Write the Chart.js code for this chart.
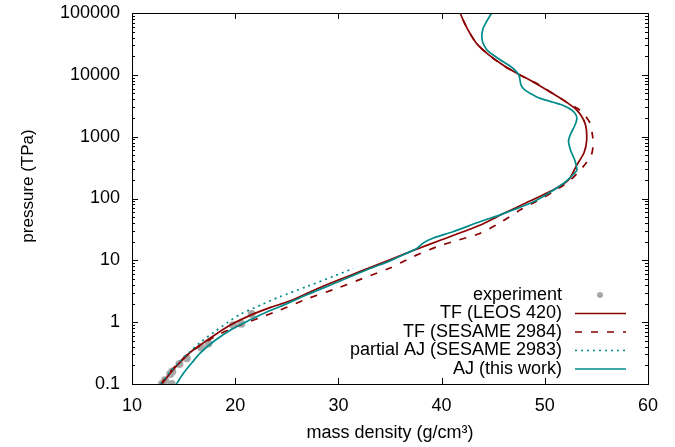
<!DOCTYPE html>
<html>
<head>
<meta charset="utf-8">
<script src="https://cdn.jsdelivr.net/npm/chart.js@4.4.0/dist/chart.umd.min.js"></script>
<style>
  body { margin: 0; background: #fff; }
  #wrap { width: 675px; height: 447px; }
</style>
</head>
<body>
<div id="wrap"><canvas id="eos"></canvas></div>
<script>
// density (g/cm3) and pressure (TPa)
const expRho = [12.9, 13.2, 13.85, 13.7, 13.9, 14.6, 15.3, 16.7, 17.4, 19.8, 20.6, 21.6];
const expP = [0.1, 0.115, 0.1, 0.145, 0.16, 0.21, 0.26, 0.39, 0.45, 0.89, 0.94, 1.35];

const leosRho = [12.9, 13.7, 14.6, 15.6, 16.8, 18.2, 19.7, 21.5, 23.5, 25.6, 28, 30, 32.5, 35, 37.5, 40, 43.7, 46, 48.5, 50.8, 52.3, 53.1, 53.8, 54.06, 53.9, 53.1, 51.8, 50.2, 48.8, 47.3, 45.8, 44.4, 43.4, 42.75, 42.2, 41.8];
const leosP = [0.1, 0.15, 0.22, 0.32, 0.45, 0.65, 0.93, 1.3, 1.75, 2.3, 3.5, 4.8, 7.0, 10.2, 15, 21.5, 37, 57, 90, 137, 200, 347, 550, 881, 1640, 2690, 3900, 5680, 7800, 10600, 15000, 22300, 32000, 46800, 70000, 100000];

const sesRho = [12.8, 13.6, 14.5, 15.6, 16.8, 18.3, 20.5, 22.5, 24.3, 27, 30, 33, 35, 37.2, 39.5, 41.5, 43.7, 45.7, 47.6, 49.2, 50.8, 52.5, 53.7, 54.5, 54.7, 54.6, 54.4, 53.7, 53.1, 51.8, 49.2, 47.9, 46.5, 45.5, 44.4, 43.4, 42.75, 42.2, 41.8];
const sesP = [0.1, 0.15, 0.22, 0.32, 0.44, 0.62, 0.9, 1.2, 1.56, 2.4, 3.6, 5.6, 7.5, 11.4, 16.5, 21, 27.2, 41, 65, 90, 128, 200, 325, 500, 780, 1100, 1640, 2410, 2900, 3900, 7280, 9320, 12500, 16000, 22300, 32000, 46800, 70000, 100000];

const pajRho = [12.8, 13.6, 14.5, 15.5, 16.6, 18, 19.3, 20.5, 22.5, 24.3, 27, 29.5, 31.45];
const pajP = [0.1, 0.15, 0.22, 0.32, 0.47, 0.7, 1.0, 1.35, 1.9, 2.57, 3.8, 5.5, 7.4];

const ajRho = [14.3, 15.0, 15.8, 16.6, 18, 19.8, 21.5, 23, 24.3, 27, 30, 33, 35, 36.9, 37.6, 38.2, 39.2, 41.1, 43.7, 46, 49.2, 51.8, 52.6, 53.1, 52.9, 52.5, 52.3, 52.5, 52.9, 53.1, 53.0, 52.6, 51.8, 50.8, 49.5, 48.6, 48.0, 47.7, 47.6, 47.5, 47.2, 46.6, 45.7, 44.9, 44.4, 44.0, 43.9, 44.0, 44.3, 44.85];
const ajP = [0.1, 0.15, 0.22, 0.316, 0.5, 0.79, 1.1, 1.45, 1.77, 2.8, 4.5, 7.3, 9.8, 13.7, 15.6, 19, 23, 29, 42, 57, 94, 175, 230, 288, 420, 600, 850, 1100, 1500, 1900, 2300, 2700, 3200, 3600, 4200, 5000, 5800, 6800, 8200, 9900, 11500, 14000, 17400, 21500, 25200, 33000, 41400, 55000, 70000, 100000];

const xTicks = [10, 20, 30, 40, 50, 60];
const yTicks = [0.1, 1, 10, 100, 1000, 10000, 100000];

const legendNames = ["experiment", "TF (LEOS 420)", "TF (SESAME 2984)", "partial AJ (SESAME 2983)", "AJ (this work)"];
const yTitle = "pressure (TPa)";

const red = "#8b0000";
const teal = "#008b8b";
const grey = "#a8a8a8";
const font = "Liberation Sans, Arial, Helvetica, sans-serif";

const pts = (xs, ys) => xs.map((x, i) => ({ x: x, y: ys[i] }));

const lineSet = (label, xs, ys, color, dash, order) => ({
    label: label,
    data: pts(xs, ys),
    showLine: true,
    borderColor: color,
    borderWidth: 1.7,
    borderDash: dash,
    pointRadius: 0,
    tension: 0.25,
    fill: false,
    order: order,
});

// box, inward ticks on all sides, y title and the legend in the lower right
const frame = {
    id: "frame",
    afterDatasetsDraw(chart) {
        const ctx = chart.ctx;
        const a = chart.chartArea;
        const xs = chart.scales.x;
        const ys = chart.scales.y;
        ctx.save();
        ctx.strokeStyle = "#000";
        ctx.lineWidth = 1;
        ctx.beginPath();
        xTicks.forEach((v) => {
            const px = Math.round(xs.getPixelForValue(v)) + 0.5;
            ctx.moveTo(px, a.bottom); ctx.lineTo(px, a.bottom - 6);
            ctx.moveTo(px, a.top); ctx.lineTo(px, a.top + 6);
        });
        yTicks.forEach((v, i) => {
            const py = Math.round(ys.getPixelForValue(v)) + 0.5;
            ctx.moveTo(a.left, py); ctx.lineTo(a.left + 6, py);
            ctx.moveTo(a.right, py); ctx.lineTo(a.right - 6, py);
            if (i < yTicks.length - 1) {
                for (let m = 2; m <= 9; m++) {
                    const pm = Math.round(ys.getPixelForValue(v * m)) + 0.5;
                    ctx.moveTo(a.left, pm); ctx.lineTo(a.left + 3, pm);
                    ctx.moveTo(a.right, pm); ctx.lineTo(a.right - 3, pm);
                }
            }
        });
        ctx.stroke();
        ctx.strokeRect(Math.round(a.left) + 0.5, Math.round(a.top) + 0.5,
            Math.round(a.right - a.left), Math.round(a.bottom - a.top));

        ctx.fillStyle = "#000";
        ctx.textBaseline = "middle";

        // y axis title
        ctx.save();
        ctx.font = "17px " + font;
        ctx.translate(28, 186);
        ctx.rotate(-Math.PI / 2);
        ctx.textAlign = "center";
        ctx.fillText(yTitle, 0, 0);
        ctx.restore();

        // legend
        const rows = [295, 313.5, 332, 350.5, 369];
        ctx.font = "18px " + font;
        ctx.textAlign = "right";
        const sets = chart.data.datasets;
        legendNames.forEach((name, i) => {
            ctx.fillText(name, 562, rows[i]);
        });
        ctx.fillStyle = grey;
        ctx.beginPath();
        ctx.arc(600, rows[0], 3, 0, Math.PI * 2);
        ctx.fill();
        for (let i = 1; i < legendNames.length; i++) {
            const ds = sets[i];
            ctx.strokeStyle = ds.borderColor;
            ctx.lineWidth = ds.borderWidth;
            ctx.setLineDash(ds.borderDash || []);
            ctx.beginPath();
            ctx.moveTo(575, rows[i]);
            ctx.lineTo(626, rows[i]);
            ctx.stroke();
        }
        ctx.restore();
    },
};

new Chart(document.getElementById("eos"), {
    type: "scatter",
    data: {
        datasets: [
            {
                label: legendNames[0],
                data: pts(expRho, expP),
                pointRadius: 4,
                pointBackgroundColor: grey,
                pointBorderWidth: 0,
                showLine: false,
                order: 4,
            },
            lineSet(legendNames[1], leosRho, leosP, red, [], 3),
            lineSet(legendNames[2], sesRho, sesP, red, [7, 9], 2),
            lineSet(legendNames[3], pajRho, pajP, teal, [2, 4], 1),
            lineSet(legendNames[4], ajRho, ajP, teal, [], 0),
        ],
    },
    options: {
        responsive: true,
        maintainAspectRatio: false,
        animation: false,
        layout: { padding: { top: 13, right: 27, left: 0, bottom: 0 } },
        plugins: { legend: { display: false }, tooltip: { enabled: false } },
        scales: {
            x: {
                type: "linear",
                min: 10,
                max: 60,
                afterFit: (s) => {
                    s.height = 63;
                    s.paddingLeft = 0;
                    s.paddingRight = 0;
                },
                afterBuildTicks: (s) => { s.ticks = xTicks.map((v) => ({ value: v })); },
                grid: { drawOnChartArea: false, drawTicks: false, color: "transparent" },
                border: { display: false },
                ticks: { padding: 11, color: "#000", font: { family: font, size: 18 }, maxRotation: 0 },
                title: {
                    display: true,
                    text: "mass density (g/cm³)",
                    color: "#000",
                    font: { family: font, size: 18 },
                    padding: { bottom: 3 },
                },
            },
            y: {
                type: "logarithmic",
                min: 0.1,
                max: 100000,
                afterFit: (s) => {
                    s.width = 132;
                    s.paddingTop = 0;
                    s.paddingBottom = 0;
                },
                afterBuildTicks: (s) => { s.ticks = yTicks.map((v) => ({ value: v })); },
                grid: { drawOnChartArea: false, drawTicks: false, color: "transparent" },
                border: { display: false },
                ticks: {
                    padding: 12,
                    color: "#000",
                    font: { family: font, size: 18 },
                    callback: (v) => (v < 1 ? "0.1" : String(v)),
                },
            },
        },
    },
    plugins: [frame],
});
</script>
</body>
</html>
